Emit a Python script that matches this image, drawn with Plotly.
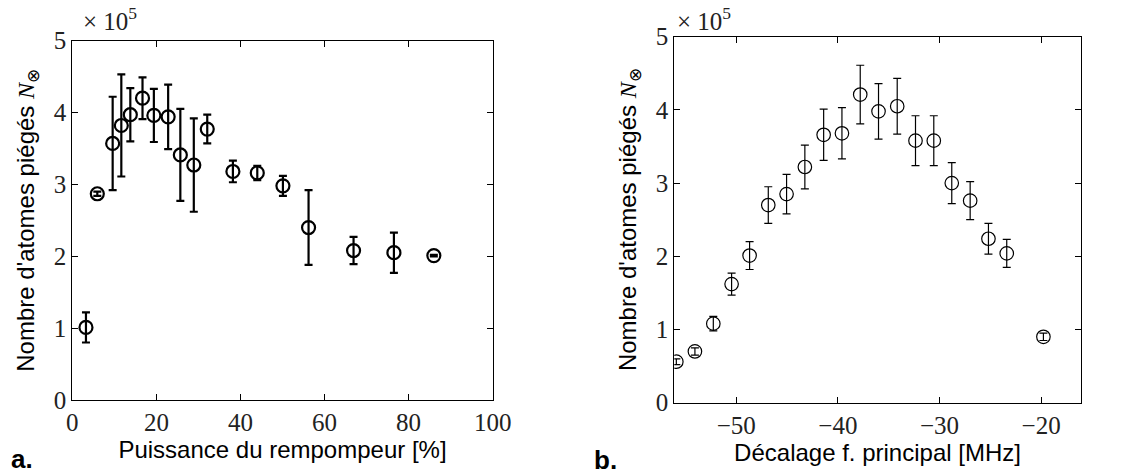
import plotly.graph_objects as go

# Panel a: repumper power
power_pct = [3.25, 5.95, 9.6, 11.66, 13.8, 16.7, 19.4, 22.8, 25.7, 28.9, 32.1,
             38.2, 44.0, 50.1, 56.2, 66.9, 76.5, 86.0]
atoms_a = [1.01, 2.87, 3.57, 3.82, 3.97, 4.20, 3.96, 3.94, 3.41, 3.27, 3.77,
           3.18, 3.16, 2.98, 2.40, 2.08, 2.05, 2.01]
err_a = [0.21, 0.03, 0.65, 0.71, 0.37, 0.29, 0.37, 0.45, 0.64, 0.65, 0.20,
         0.15, 0.10, 0.14, 0.52, 0.19, 0.28, 0.01]

# Panel b: main frequency detuning
detuning_mhz = [-55.9, -54.07, -52.26, -50.46, -48.69, -46.85, -45.05, -43.25,
                -41.4, -39.6, -37.8, -36.0, -34.16, -32.36, -30.56, -28.79,
                -26.98, -25.18, -23.38, -19.77]
atoms_b = [0.56, 0.70, 1.08, 1.62, 2.01, 2.70, 2.85, 3.22, 3.66, 3.68, 4.21,
           3.98, 4.05, 3.58, 3.58, 3.00, 2.76, 2.24, 2.04, 0.90]
err_b = [0.04, 0.05, 0.10, 0.15, 0.19, 0.25, 0.27, 0.30, 0.35, 0.35, 0.40,
         0.38, 0.38, 0.34, 0.34, 0.28, 0.26, 0.21, 0.19, 0.05]

x_ticks_a = [0, 20, 40, 60, 80, 100]
x_ticks_b = [-50, -40, -30, -20]
y_ticks = [0, 1, 2, 3, 4, 5]

SERIF = "Liberation Serif, Times New Roman, serif"
SANS = "Liberation Sans, Arial, sans-serif"

fig = go.Figure()
fig.add_trace(go.Scatter(
    x=power_pct, y=atoms_a, mode="markers",
    marker=dict(symbol="circle-open", size=13, color="black", line=dict(width=2.2, color="black")),
    error_y=dict(type="data", array=err_a, visible=True, color="black", thickness=2.2, width=4),
    xaxis="x", yaxis="y", showlegend=False))
fig.add_trace(go.Scatter(
    x=detuning_mhz, y=atoms_b, mode="markers",
    marker=dict(symbol="circle-open", size=13.5, color="black", line=dict(width=1.2, color="black")),
    error_y=dict(type="data", array=err_b, visible=True, color="black", thickness=1.2, width=4),
    xaxis="x2", yaxis="y2", showlegend=False))

W, H = 1128, 476
def dx(a, b):
    return [a / W, b / W]
def dy(top, bottom):
    return [1 - bottom / H, 1 - top / H]
def px(x):
    return x / W
def py(y):
    return 1 - y / H

axis_common = dict(showgrid=False, zeroline=False, showline=True, linecolor="black",
                   linewidth=1.3, mirror="allticks", ticks="inside", ticklen=6,
                   tickcolor="black", tickwidth=1, automargin=False,
                   tickfont=dict(family=SERIF, size=25, color="#222"))
ytitle = "Nombre d'atomes piégés <span style='font-family:Liberation Serif'><i>N</i></span><sub>⊗</sub>"

fig.update_layout(
    width=W, height=H, margin=dict(l=0, r=0, t=0, b=0),
    paper_bgcolor="white", plot_bgcolor="white",
    xaxis=dict(domain=dx(72.3, 492.7), range=[0, 100], tickvals=x_ticks_a, anchor="y",
               title=dict(text="Puissance du rempompeur [%]", font=dict(family=SANS, size=24, color="black"), standoff=2),
               **axis_common),
    yaxis=dict(domain=dy(40.7, 400), range=[0, 5], tickvals=y_ticks, anchor="x",
               title=dict(text=ytitle, font=dict(family=SANS, size=24, color="black"), standoff=12),
               **axis_common),
    xaxis2=dict(domain=dx(674.3, 1080.7), range=[-56.1, -16.1], tickvals=x_ticks_b, anchor="y2",
                title=dict(text="Décalage f. principal [MHz]", font=dict(family=SANS, size=24, color="black"), standoff=2),
                **axis_common),
    yaxis2=dict(domain=dy(36.7, 402.7), range=[0, 5], tickvals=y_ticks, anchor="x2",
                title=dict(text=ytitle, font=dict(family=SANS, size=24, color="black"), standoff=12),
                **axis_common),
)

fig.add_annotation(text="× 10<sup>5</sup>", xref="paper", yref="paper",
                   x=px(81), y=py(19), xanchor="left", yanchor="middle", showarrow=False,
                   font=dict(family=SERIF, size=25, color="#222"))
fig.add_annotation(text="× 10<sup>5</sup>", xref="paper", yref="paper",
                   x=px(675), y=py(19), xanchor="left", yanchor="middle", showarrow=False,
                   font=dict(family=SERIF, size=25, color="#222"))
fig.add_annotation(text="<b>a.</b>", xref="paper", yref="paper",
                   x=px(9), y=py(459), xanchor="left", yanchor="middle", showarrow=False,
                   font=dict(family=SANS, size=26, color="black"))
fig.add_annotation(text="<b>b.</b>", xref="paper", yref="paper",
                   x=px(592), y=py(460), xanchor="left", yanchor="middle", showarrow=False,
                   font=dict(family=SANS, size=26, color="black"))

# remove the default 8 px page margin so the figure fills the window exactly
fig.write_html("out.html", config={"displayModeBar": False},
               post_script="document.body.style.margin='0';")
